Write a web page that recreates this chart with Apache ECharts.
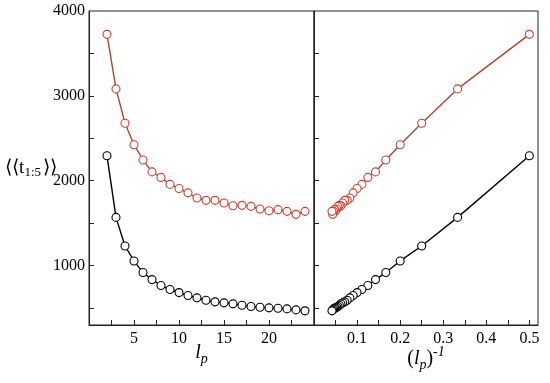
<!DOCTYPE html>
<html><head><meta charset="utf-8">
<script src="https://cdn.jsdelivr.net/npm/echarts@6/dist/echarts.min.js"></script>
<style>html,body{margin:0;padding:0;background:#fff}#c{width:550px;height:383px}</style>
</head><body><div id="c"></div>
<script>
var lp = [2,3,4,5,6,7,8,9,10,11,12,13,14,15,16,17,18,19,20,21,22,23,24];
var redVals = [3725,3082,2678,2424,2245,2104,2039,1957,1908,1857,1796,1769,1769,1737,1706,1710,1698,1667,1647,1659,1639,1604,1639];
var blackVals = [2294,1568,1231,1055,918,835,765,718,682,647,620,592,573,561,549,533,518,510,502,498,490,478,467];
var yLabels = [1000,2000,3000,4000];
var yTicks = [500,1000,1500,2000,2500,3000,3500];
var xLeftLabels = [5,10,15,20];
var xLeftTicks = [2.5,5,7.5,10,12.5,15,17.5,20,22.5];
var xRightLabels = [0.1,0.2,0.3,0.4,0.5];
var xRightTicks = [0.05,0.1,0.15,0.2,0.25,0.3,0.35,0.4,0.45,0.5];

var FONT = 'Liberation Serif';
var RED_LINE = '#a8462e', RED_SYM = '#d23c2c';

function pairs(xs, ys){ return xs.map(function(x,i){return [x, ys[i]];}); }
function inv(xs){ return xs.map(function(x){return 1/x;}); }
function plain(v){ return String(v); }

var chart = echarts.init(document.getElementById('c'), null, {renderer:'canvas'});
var axLine = {show:true, lineStyle:{color:'#222', width:1}};
var tick = {show:true, inside:true, length:5, lineStyle:{color:'#222', width:1}};

chart.setOption({
  backgroundColor:'#fff',
  animation:false,
  textStyle:{fontFamily:FONT},
  grid:[
    {left:89, top:11, width:225, height:314, show:true, borderColor:'#222', borderWidth:1, backgroundColor:'transparent', containLabel:false, outerBoundsMode:'none'},
    {left:314, top:11, width:224, height:314, show:true, borderColor:'#222', borderWidth:1, backgroundColor:'transparent', containLabel:false, outerBoundsMode:'none'}
  ],
  xAxis:[
    {type:'value', gridIndex:0, min:0, max:25, splitLine:{show:false}, axisLine:axLine,
     axisTick:Object.assign({}, tick, {customValues:xLeftTicks}),
     axisLabel:{customValues:xLeftLabels, margin:6, formatter:plain, fontFamily:FONT, fontSize:16, color:'#000'},
     name:'{i|l}{s|p}', nameLocation:'middle', nameGap:15, nameMoveOverlap:false,
     nameTextStyle:{rich:{i:{fontFamily:FONT, fontStyle:'italic', fontSize:20, color:'#000'},
                          s:{fontFamily:FONT, fontStyle:'italic', fontSize:14, color:'#000', padding:[12,0,0,0]}}}},
    {type:'value', gridIndex:1, min:0, max:0.52, splitLine:{show:false}, axisLine:axLine,
     axisTick:Object.assign({}, tick, {customValues:xRightTicks}),
     axisLabel:{customValues:xRightLabels, margin:6, formatter:plain, fontFamily:FONT, fontSize:16, color:'#000'},
     name:'{n|(}{i|l}{s|p}{n|)}{u|-1}', nameLocation:'middle', nameGap:20, nameMoveOverlap:false,
     nameTextStyle:{rich:{n:{fontFamily:FONT, fontSize:20, color:'#000'},
                          i:{fontFamily:FONT, fontStyle:'italic', fontSize:20, color:'#000'},
                          s:{fontFamily:FONT, fontStyle:'italic', fontSize:14, color:'#000', padding:[12,0,0,0]},
                          u:{fontFamily:FONT, fontStyle:'italic', fontSize:14, color:'#000', padding:[0,0,14,0]}}}}
  ],
  yAxis:[
    {type:'value', gridIndex:0, min:300, max:4000, splitLine:{show:false}, axisLine:axLine,
     axisTick:Object.assign({}, tick, {customValues:yTicks}),
     axisLabel:{customValues:yLabels, margin:4, formatter:plain, fontFamily:FONT, fontSize:16, color:'#000'},
     name:'{a|⟨⟨t}{s|1:5}{a|⟩⟩}', nameLocation:'middle', nameRotate:0, nameGap:32, nameMoveOverlap:false,
     nameTextStyle:{rich:{a:{fontFamily:FONT, fontSize:19, color:'#000'},
                          s:{fontFamily:FONT, fontSize:13, color:'#000', padding:[10,2,0,0]}}}},
    {type:'value', gridIndex:1, min:300, max:4000, splitLine:{show:false}, axisLine:axLine,
     axisTick:Object.assign({}, tick, {customValues:yTicks}),
     axisLabel:{show:false}}
  ],
  series:[
    {type:'line', xAxisIndex:0, yAxisIndex:0, data:pairs(lp, blackVals), symbol:'circle', symbolSize:8,
     lineStyle:{color:'#000', width:1.4}, itemStyle:{color:'#fff', borderColor:'#000', borderWidth:1.1}},
    {type:'line', xAxisIndex:0, yAxisIndex:0, data:pairs(lp, redVals), symbol:'circle', symbolSize:8,
     lineStyle:{color:RED_LINE, width:1.4}, itemStyle:{color:'#fff', borderColor:RED_SYM, borderWidth:1.1}},
    {type:'line', xAxisIndex:1, yAxisIndex:1, data:pairs(inv(lp), blackVals), symbol:'circle', symbolSize:8,
     lineStyle:{color:'#000', width:1.4}, itemStyle:{color:'#fff', borderColor:'#000', borderWidth:1.1}},
    {type:'line', xAxisIndex:1, yAxisIndex:1, data:pairs(inv(lp), redVals), symbol:'circle', symbolSize:8,
     lineStyle:{color:RED_LINE, width:1.4}, itemStyle:{color:'#fff', borderColor:RED_SYM, borderWidth:1.1}}
  ]
});
</script></body></html>
